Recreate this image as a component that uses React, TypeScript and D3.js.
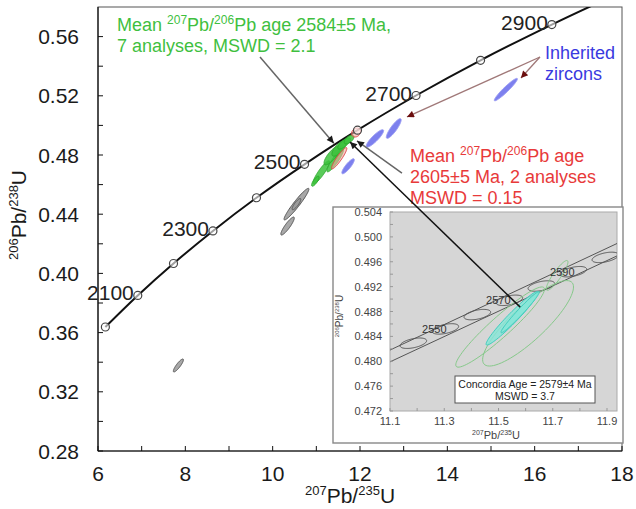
import React from "react";
import * as d3 from "d3";

// ---------- Main concordia (ages Ma, 207Pb/235U, 206Pb/238U) ----------
const concAges = [2000, 2100, 2200, 2300, 2400, 2500, 2600, 2700, 2800, 2900];
const conc207_235 = [6.169, 6.911, 7.729, 8.632, 9.629, 10.73, 11.943, 13.283, 14.761, 16.393];
const conc206_238 = [0.3638, 0.3851, 0.4067, 0.4287, 0.4511, 0.4737, 0.4968, 0.5202, 0.544, 0.5681];
const concTail207_235 = [17.451];
const concTail206_238 = [0.5828];
const concLabelAges = [2100, 2300, 2500, 2700, 2900];

// ---------- Analyses: [207/235, err, 206/238, err, rho] ----------
const inherited = [
  [15.34, 0.2645, 0.5242, 0.00757, 0.952],
  [12.773, 0.1695, 0.4979, 0.00664, 0.872],
  [12.341, 0.199, 0.4912, 0.00589, 0.882],
  [11.727, 0.143, 0.4724, 0.00508, 0.865],
];
const meanGreen = [
  [11.114, 0.191, 0.4683, 0.0078, 0.902],
  [11.432, 0.191, 0.4764, 0.0078, 0.902],
  [11.364, 0.1886, 0.4798, 0.00642, 0.796],
  [11.523, 0.166, 0.4845, 0.00531, 0.723],
  [11.636, 0.146, 0.4878, 0.00379, 0.748],
  [10.977, 0.0866, 0.4623, 0.0034, 0.78],
  [11.75, 0.113, 0.4905, 0.00302, 0.594],
];
const meanRed = [
  [11.523, 0.1757, 0.4778, 0.00723, 0.92],
  [11.909, 0.103, 0.4952, 0.00305, 0.22],
];
const discordant = [
  [10.545, 0.285, 0.4468, 0.01067, 0.954],
  [10.545, 0.1, 0.4468, 0.0038, 0.85],
  [10.341, 0.154, 0.432, 0.00607, 0.893],
  [7.841, 0.1155, 0.3378, 0.00437, 0.875],
];

const xTicksMajor = [6, 8, 10, 12, 14, 16, 18];
const xTicksMinor = [7, 9, 11, 13, 15, 17];
const yTicksMajor = [0.28, 0.32, 0.36, 0.4, 0.44, 0.48, 0.52, 0.56];
const yTicksMinor = [0.3, 0.34, 0.38, 0.42, 0.46, 0.5, 0.54];

// ---------- Inset ----------
const insetAges = [2540, 2550, 2560, 2570, 2580, 2590, 2600];
const inset207_235 = [11.186, 11.304, 11.422, 11.54, 11.658, 11.776, 11.894];
const inset206_238 = [0.4829, 0.4852, 0.4875, 0.4898, 0.4921, 0.4944, 0.4967];
const insetMarkerErr = [0.049, 0.00084, 0.48];
const insetLabelAges = [2550, 2570, 2590];
const insetBand207_235 = [11.1, 11.94];
const insetBandUpper = [0.4818, 0.499];
const insetBandLower = [0.4799, 0.497];
const insetGreen = [
  [11.506, 0.1635, 0.4855, 0.00645, 0.943],
  [11.609, 0.1675, 0.4861, 0.00687, 0.85],
  [11.716, 0.04, 0.4938, 0.0024, 0.896],
];
const insetCyan = [
  [11.55, 0.0958, 0.4869, 0.0043, 0.965],
  [11.58, 0.0709, 0.4879, 0.00331, 0.977],
];
const insetXTicks = [11.1, 11.3, 11.5, 11.7, 11.9];
const insetXMinor = [11.2, 11.4, 11.6, 11.8];
const insetYTicks = [0.472, 0.476, 0.48, 0.484, 0.488, 0.492, 0.496, 0.5, 0.504];
const insetYMinor = [0.474, 0.478, 0.482, 0.486, 0.49, 0.494, 0.498, 0.502];

// ---------- Scales ----------
const mx = d3.scaleLinear().domain([6, 18]).range([98, 622]);
const my = d3.scaleLinear().domain([0.28, 0.58]).range([451, 7]);
const ix = d3.scaleLinear().domain([11.1, 11.9]).range([390, 607]);
const iy = d3.scaleLinear().domain([0.472, 0.504]).range([411, 212]);

const FONT = "Liberation Sans, Arial, Helvetica, sans-serif";

function ellipsePath(e: number[], sx: any, sy: any) {
  const [x, ex, y, ey, r] = e;
  const n = 80;
  const k = Math.sqrt(Math.max(0, 1 - r * r));
  const pts: [number, number][] = d3.range(n).map((i) => {
    const t = (i / n) * 2 * Math.PI;
    return [sx(x + ex * Math.cos(t)), sy(y + ey * (r * Math.cos(t) + k * Math.sin(t)))];
  });
  return d3.line().curve(d3.curveLinearClosed)(pts) as string;
}

function Iso({ a, b, c, d, fs, sfs }: { a: string; b: string; c: string; d: string; fs: number; sfs: number }) {
  const up = fs * 0.38;
  return (
    <>
      <tspan fontSize={sfs} dy={-up}>{a}</tspan>
      <tspan fontSize={fs} dy={up}>{b}</tspan>
      <tspan fontSize={sfs} dy={-up}>{c}</tspan>
      <tspan fontSize={fs} dy={up}>{d}</tspan>
    </>
  );
}

export default function App() {
  const curvePts: [number, number][] = [
    ...conc207_235.map((x, i) => [mx(x), my(conc206_238[i])] as [number, number]),
    ...concTail207_235.map((x, i) => [mx(x), my(concTail206_238[i])] as [number, number]),
  ];
  const curve = d3.line().curve(d3.curveCatmullRom.alpha(0.5))(curvePts) as string;
  const bandLine = d3.line().curve(d3.curveLinear);

  const ipx0 = 390, ipx1 = 617, ipy0 = 212, ipy1 = 411;

  return (
    <svg
      width={636}
      height={509}
      style={{ position: "absolute", left: 0, top: 0, display: "block" }}
      fontFamily={FONT}
    >
      <defs>
        <clipPath id="mainClip">
          <rect x={98} y={7} width={524} height={444} />
        </clipPath>
        <clipPath id="insetClip">
          <rect x={ipx0} y={ipy0} width={ipx1 - ipx0} height={ipy1 - ipy0} />
        </clipPath>
        <marker id="ahDark" viewBox="0 0 10 10" refX="10" refY="5" markerWidth="9" markerHeight="7" orient="auto" markerUnits="userSpaceOnUse">
          <path d="M0,0 L10,5 L0,10 z" fill="#1a1a1a" />
        </marker>
        <marker id="ahRed" viewBox="0 0 10 10" refX="10" refY="5" markerWidth="9" markerHeight="7" orient="auto" markerUnits="userSpaceOnUse">
          <path d="M0,0 L10,5 L0,10 z" fill="#6b0d0d" />
        </marker>
      </defs>
      <rect x={0} y={0} width={636} height={509} fill="#fff" />

      {/* main frame */}
      <rect x={98} y={7} width={524} height={444} fill="none" stroke="#555" strokeWidth={1} />
      <line x1={98} y1={7} x2={98} y2={451} stroke="#111" strokeWidth={1.2} />
      <line x1={98} y1={451} x2={622} y2={451} stroke="#111" strokeWidth={1.2} />

      {/* ticks */}
      {[...xTicksMajor, ...xTicksMinor].map((t) => (
        <line key={"xt" + t} x1={mx(t)} x2={mx(t)} y1={451} y2={446} stroke="#111" strokeWidth={1} />
      ))}
      {[...yTicksMajor, ...yTicksMinor].map((t) => (
        <line key={"yt" + t} x1={98} x2={103} y1={my(t)} y2={my(t)} stroke="#111" strokeWidth={1} />
      ))}
      {xTicksMajor.map((t) => (
        <text key={"xl" + t} x={mx(t)} y={481} textAnchor="middle" fontSize={21} fill="#1a1a1a">
          {t}
        </text>
      ))}
      {yTicksMajor.map((t) => (
        <text key={"yl" + t} x={79} y={my(t) + 7.5} textAnchor="end" fontSize={21} fill="#1a1a1a">
          {t.toFixed(2)}
        </text>
      ))}

      {/* axis titles */}
      <text x={350} y={503} textAnchor="middle" fill="#1a1a1a">
        <Iso a="207" b="Pb/" c="235" d="U" fs={21} sfs={13} />
      </text>
      <text transform={`translate(26,215) rotate(-90)`} textAnchor="middle" fill="#1a1a1a">
        <Iso a="206" b="Pb/" c="238" d="U" fs={21} sfs={13} />
      </text>

      {/* concordia */}
      <g clipPath="url(#mainClip)">
        <path d={curve} fill="none" stroke="#111" strokeWidth={2} />
        {discordant.map((e, i) => (
          <path key={"gr" + i} d={ellipsePath(e, mx, my)} fill="#999" fillOpacity={0.85} stroke="#555" strokeWidth={1} />
        ))}
        {inherited.map((e, i) => (
          <path key={"bl" + i} d={ellipsePath(e, mx, my)} fill="#6f72ec" fillOpacity={0.9} stroke="#9a9cf4" strokeWidth={1} />
        ))}
        {meanGreen.map((e, i) => (
          <path key={"gn" + i} d={ellipsePath(e, mx, my)} fill="#3cc23c" fillOpacity={0.85} stroke="#2aa52a" strokeWidth={0.8} />
        ))}
        {meanRed.map((e, i) => (
          <path key={"rd" + i} d={ellipsePath(e, mx, my)} fill="#f3a59c" fillOpacity={0.6} stroke="#e04848" strokeWidth={1} />
        ))}
        {concAges.map((a, i) => (
          <circle key={"cm" + a} cx={mx(conc207_235[i])} cy={my(conc206_238[i])} r={4} fill="#fff" fillOpacity={0.6} stroke="#444" strokeWidth={1.2} />
        ))}
      </g>
      {concLabelAges.map((a) => {
        const i = concAges.indexOf(a);
        return (
          <text key={"cl" + a} x={mx(conc207_235[i]) - 4} y={my(conc206_238[i]) + 5} textAnchor="end" fontSize={21} fill="#222">
            {a}
          </text>
        );
      })}

      {/* annotations */}
      <text x={117} y={30.5} fill="#3fbf3f" fontSize={18}>
        <tspan>Mean </tspan>
        <Iso a="207" b="Pb/" c="206" d="Pb age 2584±5 Ma," fs={18} sfs={12} />
      </text>
      <text x={117} y={51.5} fill="#3fbf3f" fontSize={18}>
        7 analyses, MSWD = 2.1
      </text>
      <line x1={mx(9.71)} y1={my(0.5462)} x2={mx(11.4)} y2={my(0.488)} stroke="#666" strokeWidth={1.5} markerEnd="url(#ahDark)" />

      <text x={545} y={59} fill="#3a3adf" fontSize={18}>
        Inherited
      </text>
      <text x={545} y={80} fill="#3a3adf" fontSize={18}>
        zircons
      </text>
      <line x1={mx(16.121)} y1={my(0.5462)} x2={mx(13.076)} y2={my(0.5057)} stroke="#a07878" strokeWidth={1.3} markerEnd="url(#ahRed)" />
      <line x1={mx(16.121)} y1={my(0.5462)} x2={mx(15.686)} y2={my(0.532)} stroke="#a07878" strokeWidth={1.3} markerEnd="url(#ahRed)" />

      {/* inset */}
      <g>
        <rect x={333} y={207} width={290} height={236} fill="#fff" stroke="#888" strokeWidth={1.4} />
        <rect x={ipx0} y={ipy0} width={ipx1 - ipx0} height={ipy1 - ipy0} fill="#d6d6d6" stroke="#aaa" strokeWidth={1} />
        <g clipPath="url(#insetClip)">
          <path
            d={bandLine(insetBand207_235.map((x, i) => [ix(x), iy(insetBandUpper[i])] as [number, number])) as string}
            fill="none"
            stroke="#555"
            strokeWidth={1}
          />
          <path
            d={bandLine(insetBand207_235.map((x, i) => [ix(x), iy(insetBandLower[i])] as [number, number])) as string}
            fill="none"
            stroke="#555"
            strokeWidth={1}
          />
          {insetAges.map((a, i) => (
            <path
              key={"im" + a}
              d={ellipsePath([inset207_235[i], insetMarkerErr[0], inset206_238[i], insetMarkerErr[1], insetMarkerErr[2]], ix, iy)}
              fill="none"
              stroke="#555"
              strokeWidth={1}
            />
          ))}
          {insetGreen.map((e, i) => (
            <path key={"ig" + i} d={ellipsePath(e, ix, iy)} fill="none" stroke="#86c98a" strokeWidth={1} />
          ))}
          {insetCyan.map((e, i) => (
            <path key={"ic" + i} d={ellipsePath(e, ix, iy)} fill="#84e6d8" fillOpacity={0.8} stroke="#3fcdbd" strokeWidth={1} />
          ))}
          {insetLabelAges.map((a) => {
            const i = insetAges.indexOf(a);
            return (
              <text key={"il" + a} x={ix(inset207_235[i]) - 11} y={iy(inset206_238[i]) + 4} textAnchor="middle" fontSize={11} fill="#333">
                {a}
              </text>
            );
          })}
        </g>
        {[...insetXTicks, ...insetXMinor].map((t) => (
          <line key={"ixt" + t} x1={ix(t)} x2={ix(t)} y1={ipy1} y2={ipy1 - 3} stroke="#999" strokeWidth={1} />
        ))}
        {[...insetYTicks, ...insetYMinor].map((t) => (
          <line key={"iyt" + t} x1={ipx0} x2={ipx0 + 3} y1={iy(t)} y2={iy(t)} stroke="#999" strokeWidth={1} />
        ))}
        {insetXTicks.map((t) => (
          <text key={"ixl" + t} x={ix(t)} y={425} textAnchor="middle" fontSize={11} fill="#444">
            {t.toFixed(1)}
          </text>
        ))}
        {insetYTicks.map((t) => (
          <text key={"iyl" + t} x={382} y={iy(t) + 4} textAnchor="end" fontSize={11} fill="#444">
            {t.toFixed(3)}
          </text>
        ))}
        <text x={496} y={439} textAnchor="middle" fill="#444">
          <Iso a="207" b="Pb/" c="235" d="U" fs={11} sfs={7} />
        </text>
        <text transform={`translate(343,316) rotate(-90)`} textAnchor="middle" fill="#444">
          <Iso a="206" b="Pb/" c="238" d="U" fs={10} sfs={6} />
        </text>
        <rect x={455} y={376} width={140} height={27} fill="#fff" stroke="#555" strokeWidth={1} />
        <text x={525} y={387.5} textAnchor="middle" fontSize={10.5} fill="#222">
          Concordia Age = 2579±4 Ma
        </text>
        <text x={525} y={399.5} textAnchor="middle" fontSize={10.5} fill="#222">
          MSWD = 3.7
        </text>
      </g>

      {/* red annotation (drawn above the inset panel) */}
      <text x={410} y={161.5} fill="#e83a3a" fontSize={18}>
        <tspan>Mean </tspan>
        <Iso a="207" b="Pb/" c="206" d="Pb age" fs={18} sfs={12} />
      </text>
      <text x={410} y={182.5} fill="#e83a3a" fontSize={18}>
        2605±5 Ma, 2 analyses
      </text>
      <text x={410} y={203.5} fill="#e83a3a" fontSize={18}>
        MSWD = 0.15
      </text>
      <line x1={mx(12.961)} y1={my(0.4678)} x2={mx(11.931)} y2={my(0.4895)} stroke="#666" strokeWidth={1.5} markerEnd="url(#ahDark)" />

      {/* black connector from inset to main cluster */}
      <line x1={ix(11.58)} y1={iy(0.4887)} x2={mx(11.771)} y2={my(0.4888)} stroke="#111" strokeWidth={1.5} markerEnd="url(#ahDark)" />
    </svg>
  );
}
